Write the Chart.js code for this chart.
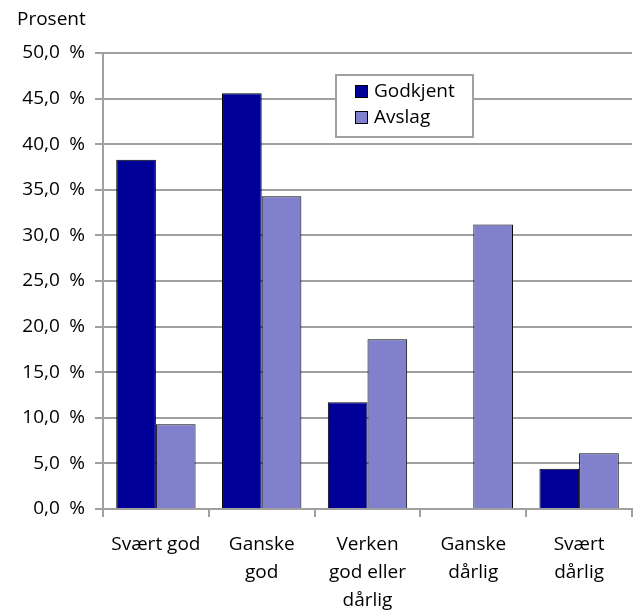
<!DOCTYPE html>
<html>
<head>
<meta charset="utf-8">
<script src="https://cdn.jsdelivr.net/npm/chart.js@4"></script>
<style>
  html, body { margin: 0; padding: 0; background: #fff; }
  #wrap { width: 634px; height: 612px; }
</style>
</head>
<body>
<div id="wrap"><canvas id="myChart"></canvas></div>
<script>
  var kategorier = [['Svært god'], ['Ganske', 'god'], ['Verken', 'god eller', 'dårlig'], ['Ganske', 'dårlig'], ['Svært', 'dårlig']]
  var godkjent = [38.3, 45.6, 11.7, 0, 4.4]
  var avslag = [9.3, 34.3, 18.6, 31.2, 6.1]
  var yTittel = 'Prosent'

  var font = '"Open Sans", "DejaVu Sans", sans-serif'
  var grid = '#a0a0a0'

  // legend inside the plot, plus the "Prosent" label
  var ekstra = {
    id: 'ekstra',
    afterDraw: function (chart) {
      var c = chart.ctx
      c.save()
      c.font = '19px ' + font
      c.fillStyle = '#000'
      c.textBaseline = 'middle'
      c.textAlign = 'left'
      c.fillText(yTittel, 17, 20)

      var bx = 336, by = 75, bw = 137, bh = 62
      c.fillStyle = '#fff'
      c.fillRect(bx, by, bw, bh)
      c.strokeStyle = grid
      c.lineWidth = 2
      c.strokeRect(bx, by, bw, bh)
      chart.data.datasets.forEach(function (ds, i) {
        var y = by + 17 + i * 26
        c.fillStyle = ds.backgroundColor
        c.fillRect(355, y - 7, 13, 13)
        c.strokeStyle = '#000'
        c.lineWidth = 1
        c.strokeRect(355.5, y - 6.5, 12, 12)
        c.fillStyle = '#000'
        c.fillText(ds.label, 374, y)
      })
      c.restore()
    }
  }

  var ctx = document.getElementById('myChart')
  var myChart = new Chart(ctx, {
    type: 'bar',
    data: {
      labels: kategorier,
      datasets: [{
        label: 'Godkjent',
        data: godkjent,
        backgroundColor: '#000099',
        borderColor: '#000',
        borderWidth: 1
      }, {
        label: 'Avslag',
        data: avslag,
        backgroundColor: '#8080cc',
        borderColor: '#000',
        borderWidth: 1
      }]
    },
    options: {
      responsive: true,
      maintainAspectRatio: false,
      animation: false,
      layout: { padding: { left: 0, right: 2, top: 53, bottom: 0 } },
      datasets: { bar: { categoryPercentage: 0.75, barPercentage: 1 } },
      plugins: { legend: { display: false }, tooltip: { enabled: false } },
      scales: {
        x: {
          grid: { offset: true, drawOnChartArea: false, drawTicks: true, tickLength: 8, color: grid, lineWidth: 2 },
          border: { color: grid, width: 2 },
          ticks: { color: '#000', padding: 14, maxRotation: 0, font: { family: font, size: 19, lineHeight: 1.47 } },
          afterFit: function (s) { s.height = 103 }
        },
        y: {
          min: 0,
          max: 50,
          ticks: {
            stepSize: 5,
            color: '#000',
            padding: 10,
            font: { family: font, size: 19 },
            callback: function (v) { return v.toFixed(1).replace('.', ',') + '\u2002%' }
          },
          grid: { color: grid, lineWidth: 2, tickLength: 8 },
          border: { color: grid, width: 2 },
          afterFit: function (s) { s.width = 103 }
        }
      }
    },
    plugins: [ekstra]
  })
</script>
</body>
</html>
